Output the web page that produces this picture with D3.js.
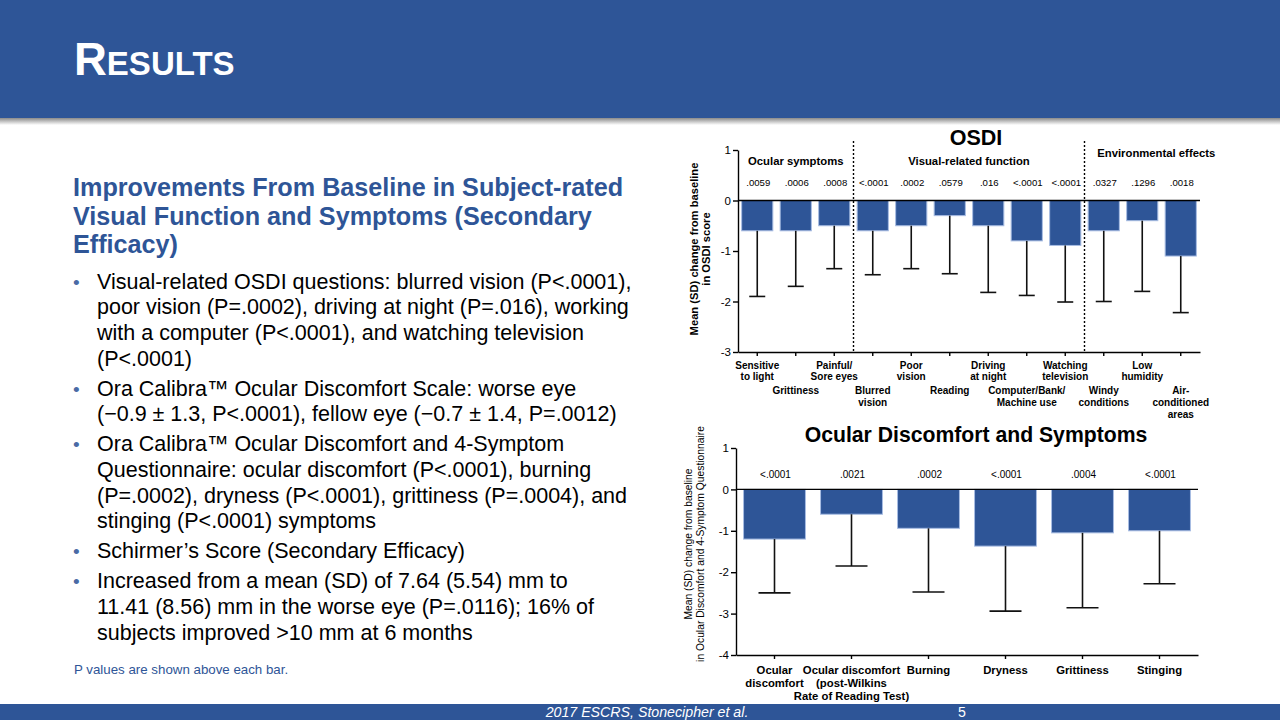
<!DOCTYPE html>
<html><head><meta charset="utf-8">
<script src="https://cdn.jsdelivr.net/npm/d3@7"></script>
<style>
body{margin:0;background:#fff}
svg{display:block;font-family:"Liberation Sans",Arial,Helvetica,sans-serif}
</style>
</head><body><svg id="c" width="1280" height="720"></svg>
<script>
// ---------- DATA ----------
const osdiCategories = ["Sensitive\nto light","Grittiness","Painful/\nSore eyes","Blurred\nvision","Poor\nvision","Reading","Driving\nat night","Computer/Bank/\nMachine use","Watching\ntelevision","Windy\nconditions","Low\nhumidity","Air-\nconditioned\nareas"];
const osdiMeans = [-0.6,-0.6,-0.5,-0.6,-0.5,-0.3,-0.5,-0.8,-0.89,-0.6,-0.4,-1.1];
const osdiSD    = [1.3,1.1,0.85,0.87,0.85,1.15,1.32,1.08,1.12,1.4,1.4,1.12];
const osdiPValues = [".0059",".0006",".0008","<.0001",".0002",".0579",".016","<.0001","<.0001",".0327",".1296",".0018"];
const osdiGroups = ["Ocular symptoms","Visual-related function","Environmental effects"];
const osdiGroupSizes = [3,6,3];
const osdiTicks = [1,0,-1,-2,-3];

const odsCategories = ["Ocular\ndiscomfort","Ocular discomfort\n(post-Wilkins\nRate of Reading Test)","Burning","Dryness","Grittiness","Stinging"];
const odsMeans = [-1.2,-0.6,-0.94,-1.37,-1.05,-1.0];
const odsSD    = [1.3,1.25,1.54,1.57,1.81,1.28];
const odsPValues = ["<.0001",".0021",".0002","<.0001",".0004","<.0001"];
const odsTicks = [1,0,-1,-2,-3,-4];

const bulletItems = [
  ["Visual-related OSDI questions: blurred vision (P<.0001),","poor vision (P=.0002), driving at night (P=.016), working","with a computer (P<.0001), and watching television","(P<.0001)"],
  ["Ora Calibra\u2122 Ocular Discomfort Scale: worse eye","(\u22120.9 \u00b1 1.3, P<.0001), fellow eye (\u22120.7 \u00b1 1.4, P=.0012)"],
  ["Ora Calibra\u2122 Ocular Discomfort and 4-Symptom","Questionnaire: ocular discomfort (P<.0001), burning","(P=.0002), dryness (P<.0001), grittiness (P=.0004), and","stinging (P<.0001) symptoms"],
  ["Schirmer\u2019s Score (Secondary Efficacy)"],
  ["Increased from a mean (SD) of 7.64 (5.54) mm to","11.41 (8.56) mm in the worse eye (P=.0116); 16% of","subjects improved >10 mm at 6 months"]
];
const headingLines = ["Improvements From Baseline in Subject-rated","Visual Function and Symptoms (Secondary","Efficacy)"];

// ---------- STYLE ----------
const BLUE = "#2E5597";
const svg = d3.select("#c");

// header
const defs = svg.append("defs");
const g1 = defs.append("linearGradient").attr("id","sh").attr("x1",0).attr("y1",0).attr("x2",0).attr("y2",1);
g1.append("stop").attr("offset","0%").attr("stop-color","#8a8a8a");
g1.append("stop").attr("offset","100%").attr("stop-color","#ffffff");
svg.append("rect").attr("x",0).attr("y",118).attr("width",1280).attr("height",7).attr("fill","url(#sh)");
svg.append("rect").attr("x",0).attr("y",0).attr("width",1280).attr("height",118).attr("fill",BLUE);
const title = svg.append("text").attr("x",74).attr("y",75).attr("fill","#fff").attr("font-weight","bold");
title.append("tspan").attr("font-size",45.5).text("R");
title.append("tspan").attr("font-size",33).text("ESULTS");

// footer
svg.append("rect").attr("x",0).attr("y",704).attr("width",1280).attr("height",16).attr("fill",BLUE);
svg.append("text").attr("x",647).attr("y",717).attr("text-anchor","middle").attr("fill","#fff")
  .attr("font-style","italic").attr("font-size",14.2).attr("font-family","'Liberation Sans Narrow','Arial Narrow',sans-serif")
  .text("2017 ESCRS, Stonecipher et al.");
svg.append("text").attr("x",962).attr("y",717).attr("text-anchor","middle").attr("fill","#fff")
  .attr("font-size",14.2).attr("font-family","'Liberation Sans Narrow','Arial Narrow',sans-serif").text("5");

// left text
headingLines.forEach((t,i)=>{
  svg.append("text").attr("x",73).attr("y",196+i*28.6).attr("fill",BLUE).attr("font-weight","bold")
    .attr("font-size",25.2).text(t);
});
let yy = 288.5;
bulletItems.forEach((lines,bi)=>{
  svg.append("text").attr("x",73).attr("y",yy).attr("fill","#4a6aa5").attr("font-size",19).text("\u2022");
  lines.forEach((t,li)=>{
    svg.append("text").attr("x",97).attr("y",yy+li*25.7).attr("fill","#000").attr("font-size",21.5).text(t);
  });
  yy += (lines.length-1)*25.7 + 30;
});
svg.append("text").attr("x",74).attr("y",674).attr("fill",BLUE).attr("font-size",13.3)
  .text("P values are shown above each bar.");

// ---------- generic bar chart ----------
function barChart(opt){
  const g = svg.append("g");
  const x = d3.scaleBand().domain(opt.cats).range([opt.x0,opt.x1]).paddingInner(opt.pad).paddingOuter(opt.pad/2);
  const y = d3.scaleLinear().domain([opt.ticks[opt.ticks.length-1],opt.ticks[0]]).range([opt.yb,opt.yt]);
  const ya = g.append("g").attr("transform",`translate(${opt.x0},0)`)
    .call(d3.axisLeft(y).tickValues(opt.ticks).tickSize(5).tickSizeOuter(0).tickFormat(d=>String(d)));
  ya.selectAll("path,line").attr("stroke","#000").attr("stroke-width",1.4);
  ya.selectAll("text").attr("font-size",11.5).attr("fill","#000").attr("font-family","'Liberation Sans',Arial,sans-serif").attr("dx",1);
  const xa = g.append("g").attr("transform",`translate(0,${opt.yb})`)
    .call(d3.axisBottom(x).tickSize(4).tickSizeOuter(0).tickFormat(""));
  xa.selectAll("path,line").attr("stroke","#000").attr("stroke-width",1.4);
  g.selectAll("rect.bar").data(opt.cats).join("rect").attr("class","bar")
    .attr("x",d=>x(d)).attr("width",x.bandwidth())
    .attr("y",y(0)).attr("height",(d,i)=>y(opt.means[i])-y(0))
    .attr("fill",BLUE).attr("stroke","#a8bde3").attr("stroke-width",1);
  g.append("line").attr("x1",opt.x0).attr("x2",opt.x1).attr("y1",y(0)).attr("y2",y(0)).attr("stroke","#000").attr("stroke-width",1.4);
  opt.cats.forEach((c,i)=>{
    const cx = x(c)+x.bandwidth()/2;
    const lo = opt.means[i]-opt.sd[i];
    g.append("line").attr("x1",cx).attr("x2",cx).attr("y1",y(opt.means[i])).attr("y2",y(lo)).attr("stroke","#111").attr("stroke-width",1.6);
    g.append("line").attr("x1",cx-opt.cap/2).attr("x2",cx+opt.cap/2).attr("y1",y(lo)).attr("y2",y(lo)).attr("stroke","#111").attr("stroke-width",1.6);
  });
  opt.cats.forEach((c,i)=>{
    g.append("text").attr("x",x(c)+x.bandwidth()/2+1).attr("y",opt.pY).attr("text-anchor","middle")
      .attr("font-size",opt.pSize).attr("fill","#000").text(opt.p[i]);
  });
  opt.cats.forEach((c,i)=>{
    const lines = c.split("\n");
    const base = opt.labelY(i);
    lines.forEach((t,li)=>{
      g.append("text").attr("x",x(c)+x.bandwidth()/2).attr("y",base+li*opt.labelLH).attr("text-anchor","middle")
        .attr("font-size",opt.labelSize).attr("font-weight","bold").attr("fill","#000").text(t);
    });
  });
  g.append("text").attr("x",opt.titleX).attr("y",opt.titleY).attr("text-anchor","middle").attr("font-weight","bold")
    .attr("font-size",opt.titleSize).attr("fill","#000").text(opt.title);
  opt.yTitle.forEach((t,li)=>{
    g.append("text").attr("transform",`translate(${opt.yTitleX[li]},${opt.yTitleCY}) rotate(-90)`)
      .attr("text-anchor","middle").attr("font-size",opt.yTitleSize).attr("font-weight",opt.yTitleWeight).attr("fill","#000").text(t);
  });
  return {g,x,y};
}

// OSDI
const c1 = barChart({
  cats: osdiCategories, means: osdiMeans, sd: osdiSD, p: osdiPValues, ticks: osdiTicks,
  x0: 738, x1: 1200, yt: 150, yb: 352, pad: 0.19, cap: 16,
  pY: 186, pSize: 9.6,
  labelY: i => i%2===0 ? 368.5 : 394, labelLH: 11.8, labelSize: 10,
  title: "OSDI", titleX: 976, titleY: 144.5, titleSize: 21.5,
  yTitle: ["Mean (SD) change from baseline","in OSDI score"], yTitleX: [698,710], yTitleCY: 249, yTitleSize: 11.2, yTitleWeight: "bold"
});
{
  const {g,x,y} = c1;
  const step = x.step();
  let start = 0;
  osdiGroups.forEach((lab,gi)=>{
    const n = osdiGroupSizes[gi];
    const a = osdiCategories[start], b = osdiCategories[start+n-1];
    let cx = (x(a)+x(b)+x.bandwidth())/2;
    let ty = 165;
    if (gi===2){ cx += 14; ty = 157; }
    g.append("text").attr("x",cx).attr("y",ty).attr("text-anchor","middle").attr("font-weight","bold")
      .attr("font-size",11.3).attr("fill","#000").text(lab);
    if (gi>0){
      const dx = x(a) - step*0.19/2;
      g.append("line").attr("x1",dx).attr("x2",dx).attr("y1",141).attr("y2",y(-3))
        .attr("stroke","#000").attr("stroke-width",1.4).attr("stroke-dasharray","2,2");
    }
    start += n;
  });
}

// Ocular discomfort
barChart({
  cats: odsCategories, means: odsMeans, sd: odsSD, p: odsPValues, ticks: odsTicks,
  x0: 736, x1: 1198, yt: 448, yb: 655, pad: 0.196, cap: 32,
  pY: 478, pSize: 10,
  labelY: i => 674, labelLH: 12.8, labelSize: 11.3,
  title: "Ocular Discomfort and Symptoms", titleX: 976, titleY: 441.5, titleSize: 21.2,
  yTitle: ["Mean (SD) change from baseline","in Ocular Discomfort and 4-Symptom Questionnaire"], yTitleX: [692,704], yTitleCY: 544, yTitleSize: 10.3, yTitleWeight: "normal"
});
</script>
</body></html>
